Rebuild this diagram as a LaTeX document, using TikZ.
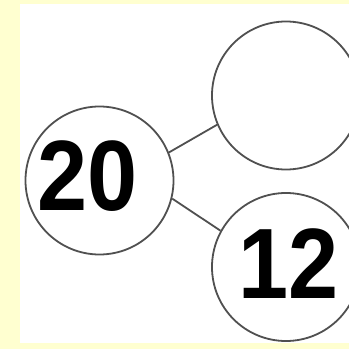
\documentclass[tikz,border=0pt]{standalone}
\usepackage{fontspec}
\newfontfamily\numfont{Liberation Sans}[UprightFont=* Bold, FakeStretch=0.9]
\definecolor{paper}{RGB}{255,255,208}
\definecolor{ink}{RGB}{80,80,80}
\tikzset{
  part/.style={circle, draw=ink, line width=1.8pt, fill=white, inner sep=0pt, minimum size=148pt},
  num/.style={inner sep=0pt, font=\numfont\fontsize{100}{100}\selectfont},
  bond/.style={draw=ink, line width=1.8pt}
}
\begin{document}
\begin{tikzpicture}[x=1pt, y=1pt]
        % \draw[help lines, gray!50, very thin] (0,0) grid[step=50] (349,349);
        \useasboundingbox (0,0) rectangle (349,349);
        \fill[paper] (0,0) rectangle (349,349);
        \fill[white] (20,6) rectangle (349,345);
        \clip (20,6) rectangle (349,345);

        \node[part] (whole) at (99.5,168.5) {};
        \node[part] (top) at (286,253.5) {};
        \node[part] (bottom) at (286,82) {};

        \node[num] (wholenum) at (87.5,173) {20};
        \node[num] (bottomnum) at (288.5,85) {12};

        \draw[bond] (whole.22) -- (top.203);
        \draw[bond] (whole.-14) -- (bottom.151);
      \end{tikzpicture}
\end{document}
